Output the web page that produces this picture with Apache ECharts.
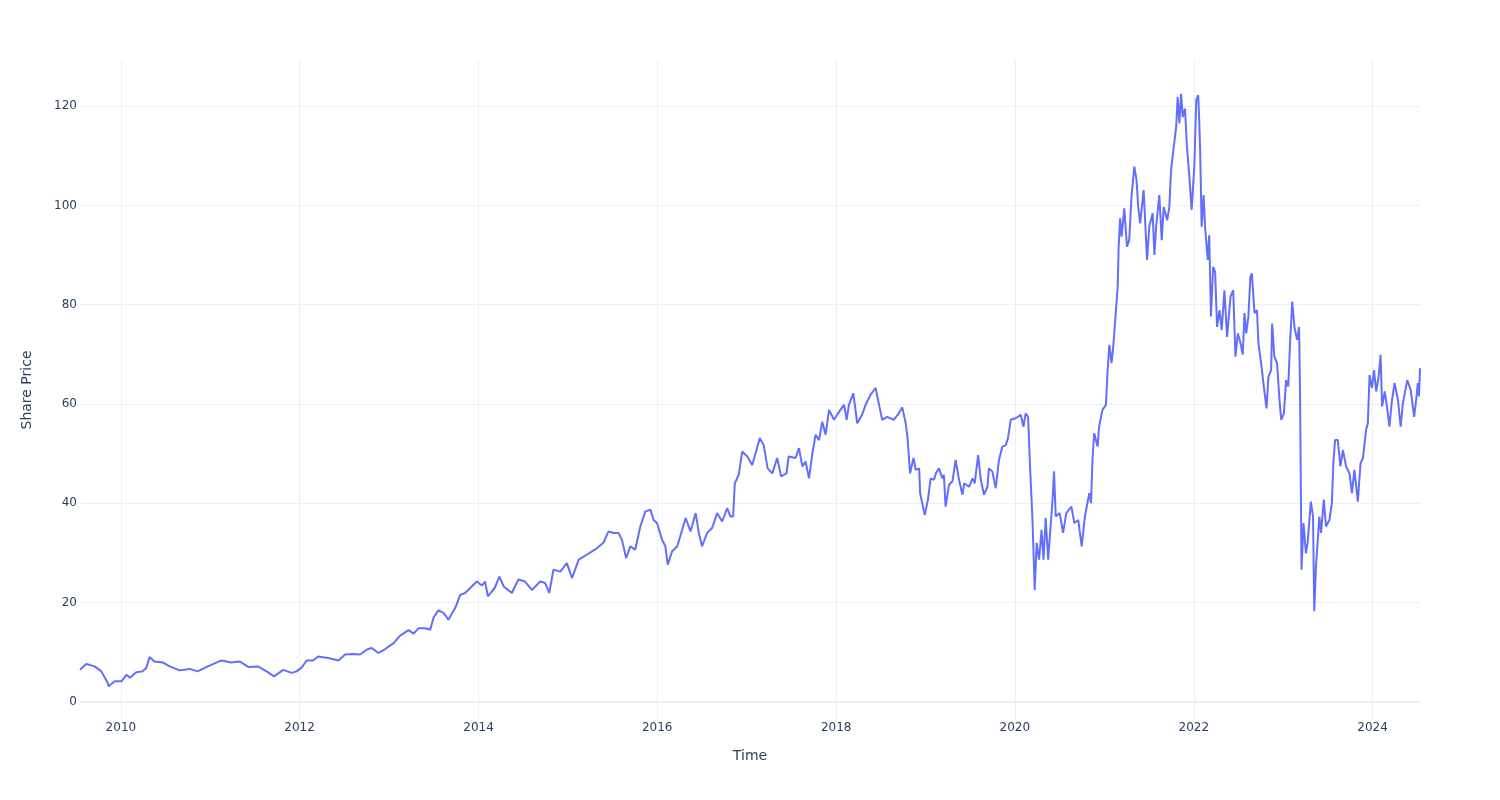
<!DOCTYPE html>
<html>
<head>
<meta charset="utf-8">
<title>Share Price</title>
<script src="https://cdn.jsdelivr.net/npm/echarts@6/dist/echarts.min.js"></script>
<style>
  html, body { margin: 0; padding: 0; background: #ffffff; }
  #chart { width: 1500px; height: 800px; }
</style>
</head>
<body>
<div id="chart"></div>
<script>
// ---- data ----
const dates = [
  '2009-07-18','2009-08-12','2009-09-16','2009-10-13','2009-11-08','2009-11-12','2009-12-07',
  '2010-01-03','2010-01-24','2010-02-07','2010-03-05','2010-03-30','2010-04-15','2010-04-28','2010-05-18','2010-06-21','2010-07-19','2010-08-29','2010-10-09','2010-11-10','2010-12-22',
  '2011-02-16','2011-03-28','2011-05-01','2011-06-05','2011-07-15','2011-08-19','2011-09-19','2011-10-26','2011-11-29','2011-12-20',
  '2012-01-10','2012-01-30','2012-02-25','2012-03-17','2012-04-27','2012-06-08','2012-07-05','2012-08-08','2012-09-04','2012-10-02','2012-10-22','2012-11-18','2012-12-16',
  '2013-01-19','2013-02-15','2013-03-21','2013-04-11','2013-05-01','2013-05-28','2013-06-18','2013-07-01','2013-07-21','2013-08-11','2013-08-31','2013-09-28','2013-10-18','2013-11-07','2013-11-28','2013-12-25',
  '2014-01-15','2014-01-28','2014-02-08','2014-03-08','2014-03-27','2014-04-14','2014-05-17','2014-06-13','2014-07-10','2014-08-07','2014-09-10','2014-09-30','2014-10-17','2014-11-03','2014-12-01','2014-12-28',
  '2015-01-18','2015-02-14','2015-03-19','2015-04-29','2015-05-26','2015-06-16','2015-07-07','2015-07-27','2015-08-10','2015-08-27','2015-09-13','2015-10-03','2015-10-24','2015-11-13','2015-12-04','2015-12-17','2015-12-31',
  '2016-01-21','2016-02-03','2016-02-13','2016-03-02','2016-03-23','2016-04-08','2016-04-26','2016-05-16','2016-06-06','2016-06-19','2016-07-02','2016-07-23','2016-08-12','2016-09-02','2016-09-22','2016-10-13','2016-10-26','2016-11-06','2016-11-13','2016-11-29','2016-12-13',
  '2017-01-03','2017-01-23','2017-02-06','2017-02-23','2017-03-11','2017-03-27','2017-04-15','2017-05-05','2017-05-21','2017-06-12','2017-06-21','2017-07-19','2017-08-02','2017-08-16','2017-08-29','2017-09-12','2017-09-26','2017-10-09','2017-10-23','2017-11-05','2017-11-19','2017-12-03','2017-12-23',
  '2018-01-13','2018-02-02','2018-02-13','2018-02-22','2018-03-12','2018-03-28','2018-04-17','2018-05-01','2018-05-21','2018-06-11','2018-06-24','2018-07-08','2018-07-28','2018-08-24','2018-09-14','2018-09-28','2018-10-12','2018-10-19','2018-10-30','2018-11-13','2018-11-22','2018-12-06','2018-12-10','2018-12-20','2018-12-29',
  '2019-01-11','2019-01-22','2019-02-05','2019-02-12','2019-02-25','2019-03-11','2019-03-17','2019-03-24','2019-04-07','2019-04-21','2019-05-04','2019-05-18','2019-06-01','2019-06-08','2019-06-28','2019-07-12','2019-07-21','2019-08-04','2019-08-15','2019-08-28','2019-09-11','2019-09-17','2019-10-01','2019-10-15','2019-10-28','2019-11-11','2019-11-25','2019-12-04','2019-12-15',
  '2020-01-04','2020-01-25','2020-02-05','2020-02-14','2020-02-24','2020-03-03','2020-03-13','2020-03-22','2020-03-30','2020-04-09','2020-04-19','2020-04-27','2020-05-06','2020-05-16','2020-05-27','2020-06-03','2020-06-09','2020-06-16','2020-07-02','2020-07-16','2020-07-29','2020-08-19','2020-08-31','2020-09-16','2020-09-30','2020-10-13','2020-10-31','2020-11-07','2020-11-13','2020-11-20','2020-12-04','2020-12-10','2020-12-24',
  '2021-01-07','2021-01-14','2021-01-21','2021-01-30','2021-02-07','2021-02-17','2021-02-24','2021-02-28','2021-03-06','2021-03-12','2021-03-23','2021-04-03','2021-04-12','2021-04-22','2021-05-03','2021-05-12','2021-05-19','2021-05-27','2021-06-10','2021-06-24','2021-07-03','2021-07-17','2021-07-24','2021-07-31','2021-08-13','2021-08-23','2021-08-31','2021-09-14','2021-09-23','2021-09-30','2021-10-11','2021-10-21','2021-10-27','2021-11-03','2021-11-10','2021-11-17','2021-11-26','2021-12-04','2021-12-14','2021-12-23',
  '2022-01-03','2022-01-11','2022-01-19','2022-01-23','2022-01-27','2022-02-02','2022-02-10','2022-02-16','2022-02-27','2022-03-05','2022-03-12','2022-03-21','2022-03-29','2022-04-06','2022-04-16','2022-04-25','2022-05-06','2022-05-17','2022-05-31','2022-06-11','2022-06-20','2022-06-30','2022-07-11','2022-07-20','2022-07-27','2022-08-03','2022-08-12','2022-08-20','2022-08-26','2022-09-06','2022-09-16','2022-09-22','2022-10-03','2022-10-14','2022-10-25','2022-11-02','2022-11-13','2022-11-17','2022-11-26','2022-12-07','2022-12-17','2022-12-24',
  '2023-01-04','2023-01-13','2023-01-22','2023-01-29','2023-02-07','2023-02-16','2023-02-27','2023-03-07','2023-03-11','2023-03-14','2023-03-17','2023-03-25','2023-04-04','2023-04-11','2023-04-24','2023-05-03','2023-05-08','2023-05-15','2023-05-29','2023-06-05','2023-06-16','2023-06-25','2023-07-09','2023-07-19','2023-07-25','2023-08-01','2023-08-12','2023-08-23','2023-09-02','2023-09-15','2023-09-29','2023-10-09','2023-10-19','2023-11-02','2023-11-13','2023-11-23','2023-12-06','2023-12-13','2023-12-20','2023-12-30',
  '2024-01-07','2024-01-16','2024-01-26','2024-02-03','2024-02-09','2024-02-20','2024-03-01','2024-03-10','2024-03-20','2024-03-31','2024-04-14','2024-04-25','2024-05-04','2024-05-22','2024-06-05','2024-06-19','2024-06-28','2024-07-04','2024-07-09','2024-07-13'
];
const prices = [
  6.4,7.6,7.1,6.1,3.8,3.1,4.1,
  4.1,5.4,4.8,5.9,6.1,6.8,9.0,8.1,7.9,7.1,6.3,6.6,6.1,7.1,
  8.3,7.9,8.1,7.0,7.1,6.1,5.1,6.4,5.8,6.1,
  6.9,8.3,8.3,9.1,8.8,8.3,9.5,9.6,9.5,10.5,10.8,9.8,10.6,
  11.8,13.3,14.4,13.7,14.8,14.8,14.5,16.9,18.4,17.9,16.5,18.9,21.5,21.9,22.9,24.2,
  23.4,24.2,21.2,22.9,25.2,23.2,21.9,24.6,24.2,22.5,24.2,23.9,21.9,26.6,26.2,27.9,
  24.9,28.6,29.6,30.9,32.0,34.3,34.0,34.0,32.6,28.9,31.3,30.6,35.3,38.3,38.7,36.6,36.0,
  32.6,31.3,27.6,30.3,31.3,34.0,37.0,34.3,38.0,34.0,31.3,34.0,35.0,38.0,36.3,39.0,37.3,37.3,44.0,45.7,50.4,
  49.4,47.7,50.1,53.1,51.7,47.0,46.0,49.1,45.4,46.0,49.4,49.1,51.1,47.4,48.4,45.0,50.1,53.8,52.7,56.4,53.8,58.8,56.8,
  58.4,59.8,56.8,59.8,62.1,56.1,57.8,59.8,61.8,63.2,60.1,56.8,57.4,56.8,58.1,59.3,56.1,53.4,46.0,49.1,46.7,47.0,42.0,39.7,37.6,
  40.7,45.0,44.7,46.0,47.0,45.0,45.7,39.3,43.7,44.4,48.7,44.7,41.7,44.0,43.3,45.0,44.0,49.7,44.7,41.7,43.3,47.0,46.4,43.0,48.7,51.4,51.7,53.1,56.8,
  57.1,57.8,55.4,58.1,57.4,47.4,36.6,22.5,32.0,28.6,34.6,28.6,37.0,28.6,36.0,40.7,46.4,37.3,38.0,34.0,38.0,39.3,36.0,36.6,31.3,37.3,42.0,40.0,48.7,54.1,51.4,55.4,58.8,
  59.8,66.8,71.9,68.2,72.2,78.9,83.6,91.7,97.4,93.7,99.4,91.7,93.0,102.1,107.8,105.1,99.7,96.4,103.1,89.0,95.7,98.4,90.0,95.7,102.1,93.0,99.7,97.0,99.7,107.1,111.8,115.8,121.9,116.5,122.5,117.8,119.5,111.8,105.8,99.1,
  107.8,121.2,122.2,117.2,110.8,95.7,102.1,95.7,89.0,94.0,77.6,87.6,86.6,75.5,78.9,74.9,82.9,73.5,81.6,82.9,69.5,74.2,72.2,69.9,78.3,74.2,77.6,85.6,86.3,78.3,78.9,72.2,68.2,63.5,59.1,65.5,66.8,76.2,69.5,68.2,60.8,56.8,
  58.1,64.8,63.5,72.2,80.6,75.5,72.9,75.5,62.1,44.7,26.6,36.0,29.9,32.0,40.3,37.3,18.2,27.2,37.3,34.0,40.7,35.3,36.6,40.0,48.0,52.7,52.7,47.4,50.7,47.4,46.0,42.0,46.7,40.3,48.0,49.1,54.8,56.1,65.8,63.2,
  66.8,62.5,65.5,69.9,59.5,62.5,59.1,55.4,60.5,64.2,60.8,55.4,60.1,64.8,62.8,57.4,61.1,64.2,61.5,67.2
];
const yTicks = [0, 20, 40, 60, 80, 100, 120];
const xTickYears = ['2010', '2012', '2014', '2016', '2018', '2020', '2022', '2024'];

// timestamps (UTC) so a numeric axis can place the dates
const toTime = s => Date.parse(s + (s.length === 4 ? '-01-01' : '') + 'T00:00:00Z');
const seriesData = dates.map((d, i) => [toTime(d), prices[i]]);
const xTickValues = xTickYears.map(toTime);

const FONT = 'DejaVu Sans, Verdana, sans-serif';
const TXT = '#2a3f5f';
const GRID = '#EBF0F8';

const chart = echarts.init(document.getElementById('chart'), null, { renderer: 'canvas' });
chart.setOption({
  animation: false,
  backgroundColor: '#ffffff',
  textStyle: { fontFamily: FONT, color: TXT },
  grid: { left: 80, right: 80, top: 60, bottom: 80, containLabel: false },
  xAxis: {
    type: 'value',
    min: 'dataMin',
    max: 'dataMax',
    scale: true,
    name: 'Time',
    nameLocation: 'middle',
    nameGap: 29,
    nameTextStyle: { fontFamily: FONT, fontSize: 14, color: TXT },
    axisLine: { show: false, onZero: false },
    axisTick: { show: false, customValues: xTickValues },
    axisLabel: {
      customValues: xTickValues,
      margin: 2,
      fontFamily: FONT, fontSize: 12, color: TXT,
      formatter: v => String(new Date(v).getUTCFullYear())
    },
    splitLine: { show: true, lineStyle: { color: GRID, width: 1 } }
  },
  yAxis: {
    type: 'value',
    min: -3.7,
    max: 129.3,
    name: 'Share Price',
    nameLocation: 'middle',
    nameGap: 46,
    nameTextStyle: { fontFamily: FONT, fontSize: 14, color: TXT },
    axisLine: { show: false, onZero: false },
    axisTick: { show: false, customValues: yTicks },
    axisLabel: {
      customValues: yTicks,
      margin: 3,
      fontFamily: FONT, fontSize: 12, color: TXT
    },
    splitLine: { show: true, lineStyle: { color: GRID, width: 1 } }
  },
  series: [{
    type: 'line',
    data: seriesData,
    showSymbol: false,
    symbol: 'none',
    lineStyle: { color: '#636efa', width: 2 },
    itemStyle: { color: '#636efa' },
    z: 3,
    markLine: {
      silent: true,
      symbol: ['none', 'none'],
      label: { show: false },
      lineStyle: { color: GRID, width: 2, type: 'solid' },
      emphasis: { disabled: true },
      data: [{ yAxis: 0 }],
      z: 1
    }
  }]
});
</script>
</body>
</html>
